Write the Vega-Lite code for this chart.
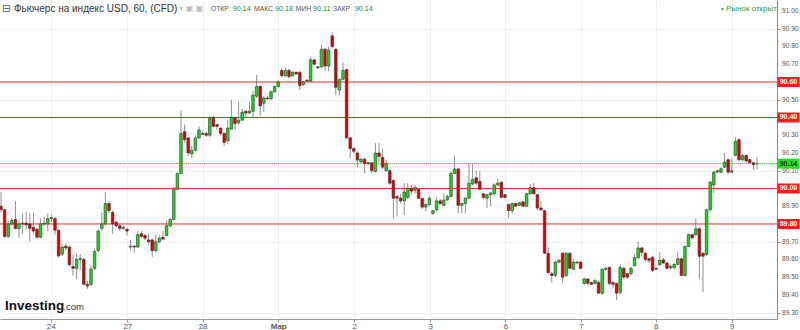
{
"$schema":"https://vega.github.io/schema/vega-lite/v6.json",
"width":777,"height":319,
"autosize":{"type":"none"},
"padding":{"left":0,"top":0,"right":23,"bottom":11},
"background":"#ffffff",
"config":{"font":"Liberation Sans","view":{"stroke":null},
 "axis":{"title":null,"labelOverlap":false,"labelFlush":false,"grid":true,"gridColor":"#efefef","labelFontSize":8,"labelColor":"#555555","tickColor":"#999999"},
 "axisX":{"tickSize":3,"labelPadding":0,"domainColor":"#999999"},
 "axisY":{"tickSize":3,"labelPadding":2,"domainColor":"#888888"}},
"datasets":{
"candles":[
{"i":0,"o":89.90,"h":89.98,"l":89.865,"c":89.88},
{"i":1,"o":89.88,"h":89.885,"l":89.72,"c":89.73},
{"i":2,"o":89.73,"h":89.82,"l":89.72,"c":89.80},
{"i":3,"o":89.80,"h":89.835,"l":89.79,"c":89.82},
{"i":4,"o":89.825,"h":89.93,"l":89.77,"c":89.775},
{"i":5,"o":89.775,"h":89.82,"l":89.72,"c":89.80},
{"i":6,"o":89.80,"h":89.86,"l":89.745,"c":89.805},
{"i":7,"o":89.805,"h":89.87,"l":89.77,"c":89.795},
{"i":8,"o":89.80,"h":89.86,"l":89.70,"c":89.775},
{"i":9,"o":89.78,"h":89.865,"l":89.745,"c":89.76},
{"i":10,"o":89.77,"h":89.78,"l":89.72,"c":89.725},
{"i":11,"o":89.725,"h":89.83,"l":89.72,"c":89.80},
{"i":12,"o":89.80,"h":89.84,"l":89.79,"c":89.805},
{"i":13,"o":89.80,"h":89.86,"l":89.76,"c":89.83},
{"i":14,"o":89.83,"h":89.855,"l":89.81,"c":89.835},
{"i":15,"o":89.83,"h":89.84,"l":89.74,"c":89.765},
{"i":16,"o":89.765,"h":89.77,"l":89.61,"c":89.62},
{"i":17,"o":89.63,"h":89.69,"l":89.62,"c":89.67},
{"i":18,"o":89.675,"h":89.69,"l":89.65,"c":89.665},
{"i":19,"o":89.67,"h":89.68,"l":89.56,"c":89.57},
{"i":20,"o":89.56,"h":89.63,"l":89.51,"c":89.55},
{"i":21,"o":89.55,"h":89.635,"l":89.49,"c":89.60},
{"i":22,"o":89.60,"h":89.63,"l":89.54,"c":89.605},
{"i":23,"o":89.60,"h":89.61,"l":89.455,"c":89.46},
{"i":24,"o":89.46,"h":89.48,"l":89.435,"c":89.45},
{"i":25,"o":89.46,"h":89.565,"l":89.45,"c":89.545},
{"i":26,"o":89.55,"h":89.66,"l":89.54,"c":89.645},
{"i":27,"o":89.65,"h":89.77,"l":89.64,"c":89.76},
{"i":28,"o":89.775,"h":89.865,"l":89.76,"c":89.80},
{"i":29,"o":89.80,"h":89.98,"l":89.79,"c":89.915},
{"i":30,"o":89.915,"h":89.93,"l":89.86,"c":89.875},
{"i":31,"o":89.865,"h":89.875,"l":89.745,"c":89.80},
{"i":32,"o":89.81,"h":89.82,"l":89.78,"c":89.79},
{"i":33,"o":89.79,"h":89.80,"l":89.76,"c":89.775},
{"i":34,"o":89.775,"h":89.79,"l":89.77,"c":89.78},
{"i":35,"o":89.77,"h":89.775,"l":89.735,"c":89.76},
{"i":36,"o":89.67,"h":89.71,"l":89.65,"c":89.675},
{"i":37,"o":89.675,"h":89.68,"l":89.64,"c":89.67},
{"i":38,"o":89.67,"h":89.76,"l":89.665,"c":89.74},
{"i":39,"o":89.745,"h":89.76,"l":89.72,"c":89.73},
{"i":40,"o":89.735,"h":89.745,"l":89.71,"c":89.72},
{"i":41,"o":89.71,"h":89.745,"l":89.68,"c":89.70},
{"i":42,"o":89.71,"h":89.72,"l":89.615,"c":89.65},
{"i":43,"o":89.65,"h":89.74,"l":89.64,"c":89.70},
{"i":44,"o":89.70,"h":89.735,"l":89.69,"c":89.72},
{"i":45,"o":89.725,"h":89.76,"l":89.71,"c":89.715},
{"i":46,"o":89.735,"h":89.82,"l":89.73,"c":89.79},
{"i":47,"o":89.79,"h":89.835,"l":89.78,"c":89.825},
{"i":48,"o":89.825,"h":90.01,"l":89.82,"c":89.995},
{"i":49,"o":89.995,"h":90.09,"l":89.99,"c":90.085},
{"i":50,"o":90.085,"h":90.44,"l":90.08,"c":90.31},
{"i":51,"o":90.32,"h":90.36,"l":90.26,"c":90.275},
{"i":52,"o":90.285,"h":90.29,"l":90.185,"c":90.20},
{"i":53,"o":90.195,"h":90.24,"l":90.17,"c":90.215},
{"i":54,"o":90.215,"h":90.30,"l":90.21,"c":90.285},
{"i":55,"o":90.285,"h":90.35,"l":90.28,"c":90.33},
{"i":56,"o":90.31,"h":90.325,"l":90.30,"c":90.305},
{"i":57,"o":90.31,"h":90.32,"l":90.29,"c":90.30},
{"i":58,"o":90.30,"h":90.41,"l":90.29,"c":90.395},
{"i":59,"o":90.40,"h":90.41,"l":90.345,"c":90.35},
{"i":60,"o":90.36,"h":90.365,"l":90.33,"c":90.35},
{"i":61,"o":90.34,"h":90.345,"l":90.30,"c":90.31},
{"i":62,"o":90.31,"h":90.315,"l":90.24,"c":90.26},
{"i":63,"o":90.27,"h":90.385,"l":90.25,"c":90.34},
{"i":64,"o":90.335,"h":90.50,"l":90.33,"c":90.40},
{"i":65,"o":90.40,"h":90.40,"l":90.33,"c":90.365},
{"i":66,"o":90.37,"h":90.49,"l":90.36,"c":90.385},
{"i":67,"o":90.385,"h":90.45,"l":90.38,"c":90.43},
{"i":68,"o":90.435,"h":90.44,"l":90.40,"c":90.425},
{"i":69,"o":90.425,"h":90.49,"l":90.42,"c":90.435},
{"i":70,"o":90.435,"h":90.55,"l":90.395,"c":90.525},
{"i":71,"o":90.52,"h":90.64,"l":90.51,"c":90.575},
{"i":72,"o":90.575,"h":90.58,"l":90.41,"c":90.465},
{"i":73,"o":90.48,"h":90.52,"l":90.43,"c":90.51},
{"i":74,"o":90.51,"h":90.52,"l":90.50,"c":90.505},
{"i":75,"o":90.505,"h":90.55,"l":90.50,"c":90.545},
{"i":76,"o":90.545,"h":90.58,"l":90.54,"c":90.575},
{"i":77,"o":90.575,"h":90.61,"l":90.57,"c":90.60},
{"i":78,"o":90.665,"h":90.68,"l":90.625,"c":90.635},
{"i":79,"o":90.635,"h":90.68,"l":90.63,"c":90.665},
{"i":80,"o":90.665,"h":90.675,"l":90.62,"c":90.63},
{"i":81,"o":90.635,"h":90.66,"l":90.63,"c":90.655},
{"i":82,"o":90.655,"h":90.66,"l":90.64,"c":90.645},
{"i":83,"o":90.655,"h":90.66,"l":90.555,"c":90.58},
{"i":84,"o":90.585,"h":90.605,"l":90.58,"c":90.60},
{"i":85,"o":90.61,"h":90.615,"l":90.60,"c":90.605},
{"i":86,"o":90.605,"h":90.74,"l":90.60,"c":90.725},
{"i":87,"o":90.725,"h":90.73,"l":90.695,"c":90.70},
{"i":88,"o":90.685,"h":90.69,"l":90.675,"c":90.68},
{"i":89,"o":90.685,"h":90.81,"l":90.68,"c":90.785},
{"i":90,"o":90.785,"h":90.79,"l":90.66,"c":90.69},
{"i":91,"o":90.69,"h":90.80,"l":90.66,"c":90.78},
{"i":92,"o":90.86,"h":90.88,"l":90.79,"c":90.80},
{"i":93,"o":90.785,"h":90.79,"l":90.525,"c":90.57},
{"i":94,"o":90.555,"h":90.62,"l":90.525,"c":90.615},
{"i":95,"o":90.615,"h":90.71,"l":90.61,"c":90.665},
{"i":96,"o":90.67,"h":90.675,"l":90.28,"c":90.285},
{"i":97,"o":90.285,"h":90.29,"l":90.17,"c":90.225},
{"i":98,"o":90.225,"h":90.23,"l":90.195,"c":90.21},
{"i":99,"o":90.20,"h":90.21,"l":90.12,"c":90.16},
{"i":100,"o":90.15,"h":90.17,"l":90.14,"c":90.165},
{"i":101,"o":90.165,"h":90.17,"l":90.085,"c":90.14},
{"i":102,"o":90.145,"h":90.15,"l":90.13,"c":90.14},
{"i":103,"o":90.145,"h":90.15,"l":90.085,"c":90.10},
{"i":104,"o":90.095,"h":90.255,"l":90.09,"c":90.20},
{"i":105,"o":90.20,"h":90.255,"l":90.145,"c":90.18},
{"i":106,"o":90.175,"h":90.225,"l":90.11,"c":90.12},
{"i":107,"o":90.10,"h":90.16,"l":90.095,"c":90.14},
{"i":108,"o":90.10,"h":90.11,"l":90.02,"c":90.03},
{"i":109,"o":90.045,"h":90.05,"l":89.83,"c":89.945},
{"i":110,"o":89.955,"h":89.96,"l":89.845,"c":89.945},
{"i":111,"o":89.945,"h":89.97,"l":89.915,"c":89.93},
{"i":112,"o":89.93,"h":90.03,"l":89.85,"c":89.98},
{"i":113,"o":89.95,"h":90.03,"l":89.94,"c":90.00},
{"i":114,"o":90.00,"h":90.02,"l":89.97,"c":89.985},
{"i":115,"o":89.99,"h":90.02,"l":89.97,"c":90.005},
{"i":116,"o":89.995,"h":90.00,"l":89.94,"c":89.945},
{"i":117,"o":89.945,"h":89.95,"l":89.885,"c":89.895},
{"i":118,"o":89.895,"h":89.915,"l":89.87,"c":89.91},
{"i":119,"o":89.91,"h":89.955,"l":89.90,"c":89.945},
{"i":120,"o":89.86,"h":89.88,"l":89.85,"c":89.875},
{"i":121,"o":89.88,"h":89.95,"l":89.87,"c":89.93},
{"i":122,"o":89.93,"h":89.94,"l":89.91,"c":89.915},
{"i":123,"o":89.905,"h":89.97,"l":89.90,"c":89.935},
{"i":124,"o":89.935,"h":89.965,"l":89.93,"c":89.955},
{"i":125,"o":89.955,"h":90.095,"l":89.95,"c":90.085},
{"i":126,"o":90.085,"h":90.185,"l":90.08,"c":90.11},
{"i":127,"o":90.11,"h":90.115,"l":89.86,"c":89.905},
{"i":128,"o":89.905,"h":89.92,"l":89.86,"c":89.915},
{"i":129,"o":89.915,"h":89.95,"l":89.86,"c":89.945},
{"i":130,"o":89.945,"h":90.14,"l":89.94,"c":90.03},
{"i":131,"o":90.025,"h":90.14,"l":90.02,"c":90.05},
{"i":132,"o":90.06,"h":90.10,"l":90.02,"c":90.03},
{"i":133,"o":90.04,"h":90.10,"l":89.99,"c":89.995},
{"i":134,"o":89.97,"h":89.975,"l":89.94,"c":89.95},
{"i":135,"o":89.945,"h":89.97,"l":89.89,"c":89.965},
{"i":136,"o":89.965,"h":89.98,"l":89.90,"c":89.975},
{"i":137,"o":89.97,"h":90.03,"l":89.96,"c":90.02},
{"i":138,"o":90.02,"h":90.055,"l":90.01,"c":90.03},
{"i":139,"o":90.035,"h":90.04,"l":89.945,"c":89.95},
{"i":140,"o":89.965,"h":89.97,"l":89.94,"c":89.95},
{"i":141,"o":89.91,"h":89.915,"l":89.835,"c":89.875},
{"i":142,"o":89.875,"h":89.92,"l":89.86,"c":89.915},
{"i":143,"o":89.915,"h":89.92,"l":89.895,"c":89.90},
{"i":144,"o":89.905,"h":89.925,"l":89.90,"c":89.92},
{"i":145,"o":89.925,"h":89.93,"l":89.895,"c":89.90},
{"i":146,"o":89.90,"h":89.975,"l":89.895,"c":89.97},
{"i":147,"o":89.97,"h":90.025,"l":89.965,"c":90.005},
{"i":148,"o":90.005,"h":90.03,"l":89.965,"c":89.97},
{"i":149,"o":89.965,"h":89.97,"l":89.875,"c":89.89},
{"i":150,"o":89.89,"h":89.93,"l":89.875,"c":89.88},
{"i":151,"o":89.875,"h":89.88,"l":89.63,"c":89.635},
{"i":152,"o":89.635,"h":89.67,"l":89.52,"c":89.525},
{"i":153,"o":89.52,"h":89.53,"l":89.47,"c":89.51},
{"i":154,"o":89.51,"h":89.59,"l":89.50,"c":89.585},
{"i":155,"o":89.585,"h":89.60,"l":89.58,"c":89.595},
{"i":156,"o":89.635,"h":89.64,"l":89.47,"c":89.50},
{"i":157,"o":89.51,"h":89.64,"l":89.50,"c":89.635},
{"i":158,"o":89.635,"h":89.64,"l":89.545,"c":89.55},
{"i":159,"o":89.545,"h":89.60,"l":89.54,"c":89.585},
{"i":160,"o":89.58,"h":89.59,"l":89.575,"c":89.585},
{"i":161,"o":89.585,"h":89.59,"l":89.545,"c":89.55},
{"i":162,"o":89.465,"h":89.50,"l":89.455,"c":89.49},
{"i":163,"o":89.49,"h":89.495,"l":89.455,"c":89.465},
{"i":164,"o":89.47,"h":89.475,"l":89.455,"c":89.46},
{"i":165,"o":89.465,"h":89.49,"l":89.46,"c":89.48},
{"i":166,"o":89.47,"h":89.48,"l":89.405,"c":89.41},
{"i":167,"o":89.41,"h":89.55,"l":89.40,"c":89.545},
{"i":168,"o":89.545,"h":89.56,"l":89.535,"c":89.55},
{"i":169,"o":89.555,"h":89.56,"l":89.455,"c":89.465},
{"i":170,"o":89.47,"h":89.48,"l":89.44,"c":89.46},
{"i":171,"o":89.465,"h":89.47,"l":89.37,"c":89.41},
{"i":172,"o":89.415,"h":89.575,"l":89.40,"c":89.555},
{"i":173,"o":89.55,"h":89.56,"l":89.49,"c":89.50},
{"i":174,"o":89.52,"h":89.525,"l":89.49,"c":89.50},
{"i":175,"o":89.52,"h":89.56,"l":89.51,"c":89.55},
{"i":176,"o":89.565,"h":89.63,"l":89.56,"c":89.61},
{"i":177,"o":89.61,"h":89.70,"l":89.605,"c":89.665},
{"i":178,"o":89.665,"h":89.67,"l":89.62,"c":89.64},
{"i":179,"o":89.635,"h":89.64,"l":89.59,"c":89.60},
{"i":180,"o":89.605,"h":89.61,"l":89.58,"c":89.595},
{"i":181,"o":89.613,"h":89.62,"l":89.53,"c":89.538},
{"i":182,"o":89.545,"h":89.555,"l":89.54,"c":89.55},
{"i":183,"o":89.57,"h":89.64,"l":89.565,"c":89.595},
{"i":184,"o":89.598,"h":89.61,"l":89.575,"c":89.58},
{"i":185,"o":89.58,"h":89.585,"l":89.545,"c":89.55},
{"i":186,"o":89.553,"h":89.57,"l":89.54,"c":89.562},
{"i":187,"o":89.553,"h":89.58,"l":89.548,"c":89.572},
{"i":188,"o":89.572,"h":89.64,"l":89.568,"c":89.604},
{"i":189,"o":89.604,"h":89.61,"l":89.505,"c":89.51},
{"i":190,"o":89.51,"h":89.68,"l":89.505,"c":89.673},
{"i":191,"o":89.673,"h":89.745,"l":89.67,"c":89.74},
{"i":192,"o":89.74,"h":89.745,"l":89.715,"c":89.722},
{"i":193,"o":89.74,"h":89.83,"l":89.735,"c":89.773},
{"i":194,"o":89.773,"h":89.78,"l":89.49,"c":89.618},
{"i":195,"o":89.635,"h":89.64,"l":89.415,"c":89.618},
{"i":196,"o":89.628,"h":89.885,"l":89.62,"c":89.88},
{"i":197,"o":89.88,"h":90.04,"l":89.87,"c":90.036},
{"i":198,"o":90.02,"h":90.10,"l":89.975,"c":90.092},
{"i":199,"o":90.092,"h":90.105,"l":90.09,"c":90.10},
{"i":200,"o":90.092,"h":90.12,"l":90.085,"c":90.111},
{"i":201,"o":90.12,"h":90.20,"l":90.115,"c":90.148},
{"i":202,"o":90.162,"h":90.17,"l":90.08,"c":90.092},
{"i":203,"o":90.092,"h":90.167,"l":90.085,"c":90.10},
{"i":204,"o":90.186,"h":90.29,"l":90.18,"c":90.265},
{"i":205,"o":90.275,"h":90.28,"l":90.155,"c":90.162},
{"i":206,"o":90.162,"h":90.195,"l":90.155,"c":90.186},
{"i":207,"o":90.186,"h":90.19,"l":90.15,"c":90.154},
{"i":208,"o":90.163,"h":90.167,"l":90.14,"c":90.145},
{"i":209,"o":90.145,"h":90.15,"l":90.105,"c":90.134},
{"i":210,"o":90.14,"h":90.18,"l":90.11,"c":90.14}
],
"ticks":[{"v":89.3,"t":"89.30"},{"v":89.4,"t":"89.40"},{"v":89.5,"t":"89.50"},{"v":89.6,"t":"89.60"},{"v":89.7,"t":"89.70"},{"v":89.9,"t":"89.90"},{"v":90.1,"t":"90.10"},{"v":90.2,"t":"90.20"},{"v":90.3,"t":"90.30"},{"v":90.5,"t":"90.50"},{"v":90.7,"t":"90.70"},{"v":90.8,"t":"90.80"},{"v":90.9,"t":"90.90"},{"v":91.0,"t":"91.00"}],
"levels":[{"p":90.6,"lab":"90.60"},{"p":90.4,"lab":"90.40"},{"p":90.0,"lab":"90.00"},{"p":89.8,"lab":"89.80"}],
"current":[{"p":90.14,"lab":"90.14"}],
"one":[{}]
},
"layer":[
{"data":{"name":"candles"},
 "mark":{"type":"rule","color":"#8f8f8f","strokeWidth":1},
 "encoding":{
  "x":{"field":"i","type":"quantitative","scale":{"domain":[-0.28,215.56],"nice":false,"zero":false,"padding":0},
   "axis":{"orient":"bottom","values":[13.8,35.1,56.0,77.0,98.1,119.2,140.1,161.1,181.9,203.0],
    "labelExpr":"datum.value<20?'24':datum.value<40?'27':datum.value<60?'28':datum.value<80?'Мар':datum.value<100?'2':datum.value<125?'3':datum.value<145?'6':datum.value<165?'7':datum.value<190?'8':'9'",
    "labelFontWeight":{"condition":{"test":"datum.value>70 && datum.value<80","value":"bold"},"value":"normal"}}},
  "y":{"field":"l","type":"quantitative","scale":{"domain":[89.2645,91.062],"nice":false,"zero":false,"padding":0},
   "axis":{"orient":"right","values":[89.3,89.4,89.5,89.6,89.7,89.8,89.9,90.0,90.1,90.2,90.3,90.4,90.5,90.6,90.7,90.8,90.9,91.0],"labels":false}},
  "y2":{"field":"h"}}},
{"data":{"name":"levels"},
 "mark":{"type":"rule","color":"#f02828","strokeWidth":1},
 "encoding":{"y":{"field":"p","type":"quantitative"}}},
{"data":{"name":"current"},
 "mark":{"type":"rule","color":"#33dd33","strokeWidth":1,"strokeDash":[1,1],"opacity":1},
 "encoding":{"y":{"field":"p","type":"quantitative"}}},
{"data":{"name":"candles"},
 "mark":{"type":"bar","size":2.6,"stroke":"#333333","strokeWidth":0.6},
 "encoding":{
  "x":{"field":"i","type":"quantitative"},
  "y":{"field":"o","type":"quantitative"},
  "y2":{"field":"c"},
  "color":{"condition":{"test":"datum.c>=datum.o","value":"#1ed81e"},"value":"#e00000"}}},
{"data":{"name":"ticks"},
 "mark":{"type":"text","color":"#555555","fontSize":6.6,"align":"left","baseline":"middle","clip":false},
 "encoding":{"x":{"datum":216.95,"type":"quantitative"},
  "y":{"field":"v","type":"quantitative"},"text":{"field":"t"}}},
{"data":{"name":"levels"},
 "mark":{"type":"bar","orient":"horizontal","size":10,"color":"#ff1a1a","clip":false},
 "encoding":{"x":{"datum":215.7,"type":"quantitative"},"x2":{"datum":221.8},
  "y":{"field":"p","type":"quantitative"}}},
{"data":{"name":"current"},
 "mark":{"type":"bar","orient":"horizontal","size":10,"color":"#22dd22","clip":false},
 "encoding":{"x":{"datum":215.7,"type":"quantitative"},"x2":{"datum":221.8},
  "y":{"field":"p","type":"quantitative"}}},
{"data":{"name":"levels"},
 "mark":{"type":"text","color":"#ffffff","fontSize":7,"fontWeight":"bold","align":"center","baseline":"middle"},
 "encoding":{"x":{"datum":218.75,"type":"quantitative"},
  "y":{"field":"p","type":"quantitative"},"text":{"field":"lab"}}},
{"data":{"name":"current"},
 "mark":{"type":"text","color":"#1a3a1a","fontSize":7,"fontWeight":"bold","align":"center","baseline":"middle"},
 "encoding":{"x":{"datum":218.75,"type":"quantitative"},
  "y":{"field":"p","type":"quantitative"},"text":{"field":"lab"}}},
{"data":{"name":"one"},"mark":{"type":"text","color":"#666666","fontSize":11,"align":"left","baseline":"middle","font":"DejaVu Sans"},
 "encoding":{"x":{"datum":0.3,"type":"quantitative"},"y":{"datum":91.011,"type":"quantitative"},"text":{"value":"⊟"}}},
{"data":{"name":"one"},"mark":{"type":"text","color":"#333333","fontSize":10,"align":"left","baseline":"middle"},
 "encoding":{"x":{"datum":3.6,"type":"quantitative"},"y":{"datum":91.011,"type":"quantitative"},"text":{"value":"Фьючерс на индекс USD, 60, (CFD)"}}},
{"data":{"name":"one"},"mark":{"type":"text","color":"#bbbbbb","fontSize":8,"align":"left","baseline":"middle","font":"DejaVu Sans"},
 "encoding":{"x":{"datum":49.5,"type":"quantitative"},"y":{"datum":91.011,"type":"quantitative"},"text":{"value":"▾  ▣ ▣"}}},
{"data":{"name":"one"},"mark":{"type":"text","color":"#555555","fontSize":6.8,"align":"left","baseline":"middle"},
 "encoding":{"x":{"datum":58.3,"type":"quantitative"},"y":{"datum":91.011,"type":"quantitative"},"text":{"value":"ОТКР"}}},
{"data":{"name":"one"},"mark":{"type":"text","color":"#1e8a3c","fontSize":7.2,"align":"left","baseline":"middle"},
 "encoding":{"x":{"datum":64.4,"type":"quantitative"},"y":{"datum":91.011,"type":"quantitative"},"text":{"value":"90.14"}}},
{"data":{"name":"one"},"mark":{"type":"text","color":"#555555","fontSize":6.8,"align":"left","baseline":"middle"},
 "encoding":{"x":{"datum":70.3,"type":"quantitative"},"y":{"datum":91.011,"type":"quantitative"},"text":{"value":"МАКС"}}},
{"data":{"name":"one"},"mark":{"type":"text","color":"#1e8a3c","fontSize":7.2,"align":"left","baseline":"middle"},
 "encoding":{"x":{"datum":76.1,"type":"quantitative"},"y":{"datum":91.011,"type":"quantitative"},"text":{"value":"90.18"}}},
{"data":{"name":"one"},"mark":{"type":"text","color":"#555555","fontSize":6.8,"align":"left","baseline":"middle"},
 "encoding":{"x":{"datum":81.9,"type":"quantitative"},"y":{"datum":91.011,"type":"quantitative"},"text":{"value":"МИН"}}},
{"data":{"name":"one"},"mark":{"type":"text","color":"#1e8a3c","fontSize":7.2,"align":"left","baseline":"middle"},
 "encoding":{"x":{"datum":86.7,"type":"quantitative"},"y":{"datum":91.011,"type":"quantitative"},"text":{"value":"90.11"}}},
{"data":{"name":"one"},"mark":{"type":"text","color":"#555555","fontSize":6.8,"align":"left","baseline":"middle"},
 "encoding":{"x":{"datum":92.2,"type":"quantitative"},"y":{"datum":91.011,"type":"quantitative"},"text":{"value":"ЗАКР"}}},
{"data":{"name":"one"},"mark":{"type":"text","color":"#1e8a3c","fontSize":7.2,"align":"left","baseline":"middle"},
 "encoding":{"x":{"datum":98.3,"type":"quantitative"},"y":{"datum":91.011,"type":"quantitative"},"text":{"value":"90.14"}}},
{"data":{"name":"one"},"mark":{"type":"text","color":"#2e9a52","fontSize":8,"align":"left","baseline":"middle"},
 "encoding":{"x":{"datum":200.0,"type":"quantitative"},"y":{"datum":91.011,"type":"quantitative"},"text":{"value":"• Рынок открыт"}}},
{"data":{"name":"one"},"mark":{"type":"text","color":"#111111","fontSize":13.5,"fontWeight":"bold","align":"left","baseline":"alphabetic"},
 "encoding":{"x":{"datum":1.1,"type":"quantitative"},"y":{"datum":89.315,"type":"quantitative"},"text":{"value":"Investing"}}},
{"data":{"name":"one"},"mark":{"type":"text","color":"#333333","fontSize":9.5,"align":"left","baseline":"alphabetic"},
 "encoding":{"x":{"datum":17.3,"type":"quantitative"},"y":{"datum":89.315,"type":"quantitative"},"text":{"value":".com"}}}
]
}
